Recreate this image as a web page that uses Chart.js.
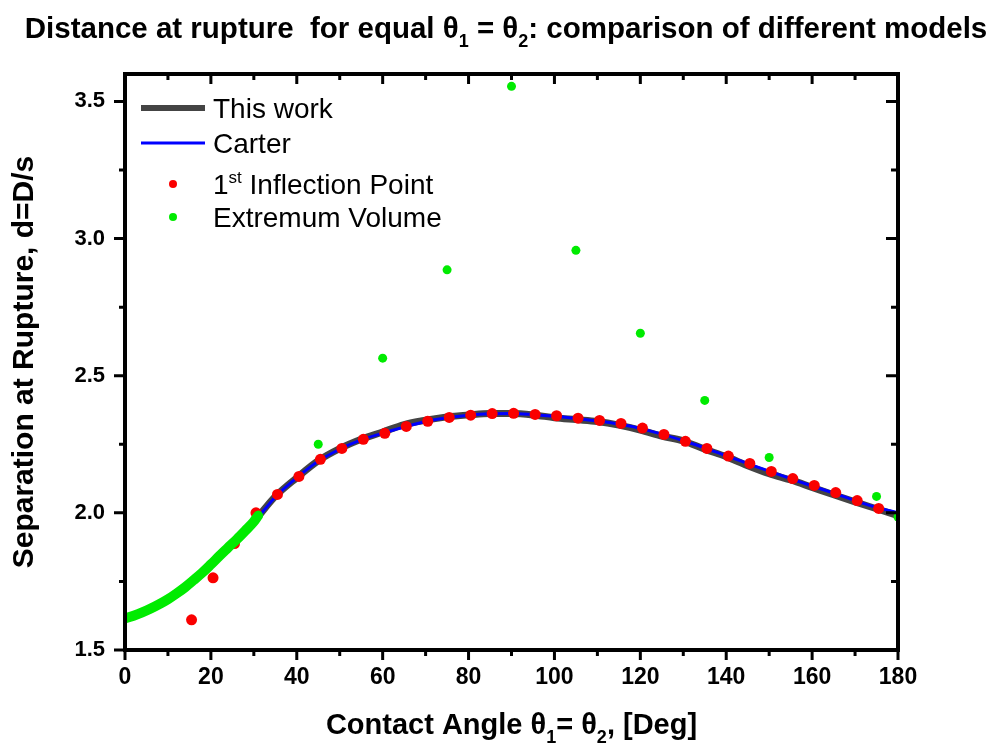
<!DOCTYPE html>
<html>
<head>
<meta charset="utf-8">
<script src="https://cdn.jsdelivr.net/npm/chart.js@4.4.0/dist/chart.umd.min.js"></script>
<style>
html, body { margin: 0; padding: 0; background: #fff; }
#wrap { width: 992px; height: 749px; }
</style>
</head>
<body>
<div id="wrap"><canvas id="chart" width="992" height="749"></canvas></div>
<script>
// Ângulos de contato (graus) usados para as duas curvas de modelo
const curveAngles = [0, 5, 10, 15, 20, 25, 30, 35, 40, 45, 50, 55, 60, 65, 70, 75, 80, 85, 90,
    95, 100, 105, 110, 115, 120, 125, 130, 135, 140, 145, 150, 155, 160, 165, 170, 175, 180];
const thisWork = [1.615, 1.645, 1.685, 1.74, 1.812, 1.888, 1.968, 2.06, 2.128, 2.19, 2.234, 2.268, 2.295,
    2.322, 2.338, 2.35, 2.357, 2.362, 2.362, 2.357, 2.347, 2.34, 2.333, 2.32, 2.302, 2.28, 2.262,
    2.232, 2.205, 2.172, 2.143, 2.12, 2.093, 2.066, 2.04, 2.015, 1.99];
const carter = [1.615, 1.645, 1.685, 1.74, 1.81, 1.885, 1.965, 2.058, 2.128, 2.188, 2.232, 2.266, 2.29,
    2.313, 2.333, 2.347, 2.356, 2.361, 2.362, 2.358, 2.352, 2.344, 2.335, 2.324, 2.308, 2.287, 2.263,
    2.237, 2.208, 2.18, 2.152, 2.125, 2.098, 2.072, 2.045, 2.02, 2.0];

// 1º ponto de inflexão
const inflectionAngles = [15.5, 20.5, 25.5, 30.5, 35.5, 40.5, 45.5, 50.5, 55.5, 60.5, 65.5, 70.5, 75.5,
    80.5, 85.5, 90.5, 95.5, 100.5, 105.5, 110.5, 115.5, 120.5, 125.5, 130.5, 135.5, 140.5, 145.5,
    150.5, 155.5, 160.5, 165.5, 170.5, 175.5];
const inflectionValues = [1.61, 1.763, 1.888, 2.0, 2.067, 2.133, 2.195, 2.235, 2.268, 2.29, 2.315, 2.334,
    2.348, 2.356, 2.362, 2.363, 2.359, 2.354, 2.345, 2.337, 2.326, 2.309, 2.286, 2.261, 2.235, 2.207,
    2.18, 2.151, 2.125, 2.1, 2.074, 2.045, 2.016];

// Volume extremo: trecho denso (0-31 graus) e pontos isolados
const extremumDenseAngles = [0, 2, 4, 6, 8, 10, 12, 14, 16, 18, 20, 22, 24, 26, 28, 30, 31];
const extremumDenseValues = [1.615, 1.625, 1.637, 1.651, 1.667, 1.685, 1.706, 1.729, 1.755, 1.782, 1.812,
    1.843, 1.873, 1.903, 1.935, 1.968, 1.99];
const extremumAngles = [45, 60, 75, 90, 105, 120, 135, 150, 175, 180];
const extremumValues = [2.25, 2.564, 2.886, 3.555, 2.957, 2.655, 2.41, 2.202, 2.06, 1.985];

// Marcas dos eixos
const xMajor = [0, 20, 40, 60, 80, 100, 120, 140, 160, 180];
const xMinor = [10, 30, 50, 70, 90, 110, 130, 150, 170];
const yMajor = [1.5, 2.0, 2.5, 3.0, 3.5];
const yMinor = [1.75, 2.25, 2.75, 3.25];

const FONT = '"Liberation Sans", Arial, sans-serif';
const GREEN = 'rgb(0, 235, 0)';
const RED = 'rgb(250, 0, 0)';

function toPoints(xs, ys) {
    return xs.map((x, i) => ({ x: x, y: ys[i] }));
}

// Desenha texto com subscrito/sobrescrito
function drawRich(ctx, parts, x, y, size, weight, align) {
    const small = Math.round(size * 0.62);
    const widths = parts.map(p => {
        ctx.font = `${weight} ${p[1] ? small : size}px ${FONT}`;
        return ctx.measureText(p[0]).width;
    });
    const total = widths.reduce((a, b) => a + b, 0);
    let cx = align === 'center' ? x - total / 2 : x;
    ctx.textBaseline = 'alphabetic';
    ctx.textAlign = 'left';
    parts.forEach((p, i) => {
        ctx.font = `${weight} ${p[1] ? small : size}px ${FONT}`;
        let dy = 0;
        if (p[1] === 'sub') dy = size * 0.3;
        if (p[1] === 'sup') dy = -size * 0.4;
        ctx.fillText(p[0], cx, y + dy);
        cx += widths[i];
    });
}

const decorations = {
    id: 'decorations',
    afterDatasetsDraw(chart) {
        const ctx = chart.ctx;
        const a = chart.chartArea;
        const xs = chart.scales.x, ys = chart.scales.y;
        ctx.save();
        ctx.strokeStyle = '#000';
        ctx.lineWidth = 3;
        ctx.beginPath();
        xMajor.forEach(v => {
            const px = xs.getPixelForValue(v);
            ctx.moveTo(px, a.bottom); ctx.lineTo(px, a.bottom + 10);
            ctx.moveTo(px, a.top); ctx.lineTo(px, a.top + 10);
        });
        xMinor.forEach(v => {
            const px = xs.getPixelForValue(v);
            ctx.moveTo(px, a.bottom); ctx.lineTo(px, a.bottom + 6);
            ctx.moveTo(px, a.top); ctx.lineTo(px, a.top + 6);
        });
        yMajor.forEach(v => {
            const py = ys.getPixelForValue(v);
            ctx.moveTo(a.left, py); ctx.lineTo(a.left - 11, py);
            ctx.moveTo(a.right, py); ctx.lineTo(a.right - 12, py);
        });
        yMinor.forEach(v => {
            const py = ys.getPixelForValue(v);
            ctx.moveTo(a.left, py); ctx.lineTo(a.left - 6, py);
            ctx.moveTo(a.right, py); ctx.lineTo(a.right - 7, py);
        });
        ctx.stroke();
        ctx.lineWidth = 4;
        ctx.strokeRect(a.left, a.top, a.right - a.left, a.bottom - a.top);
        ctx.restore();
    },
    afterDraw(chart) {
        const ctx = chart.ctx;
        const a = chart.chartArea;
        ctx.save();
        ctx.fillStyle = '#000';

        // Título
        drawRich(ctx, [['Distance at rupture  for equal θ'], ['1', 'sub'], [' = θ'], ['2', 'sub'],
            [': comparison of different models']], 506, 38, 29.5, 'bold', 'center');

        // Título do eixo x
        drawRich(ctx, [['Contact Angle θ'], ['1', 'sub'], ['= θ'], ['2', 'sub'], [', [Deg]']],
            (a.left + a.right) / 2, 734, 29, 'bold', 'center');

        // Título do eixo y
        ctx.save();
        ctx.translate(33, (a.top + a.bottom) / 2);
        ctx.rotate(-Math.PI / 2);
        drawRich(ctx, [['Separation at Rupture, d=D/s']], 0, 0, 30, 'bold', 'center');
        ctx.restore();

        // Legenda
        const ds = chart.data.datasets;
        const lx1 = 141, lx2 = 205, tx = 213;
        const rows = [108, 143, 184, 217];
        ctx.lineCap = 'butt';
        ctx.strokeStyle = ds[4].borderColor; ctx.lineWidth = 6;
        ctx.beginPath(); ctx.moveTo(lx1, rows[0]); ctx.lineTo(lx2, rows[0]); ctx.stroke();
        ctx.strokeStyle = ds[3].borderColor; ctx.lineWidth = ds[3].borderWidth;
        ctx.beginPath(); ctx.moveTo(lx1, rows[1]); ctx.lineTo(lx2, rows[1]); ctx.stroke();
        ctx.fillStyle = ds[2].backgroundColor;
        ctx.beginPath(); ctx.arc(173, rows[2], 4, 0, Math.PI * 2); ctx.fill();
        ctx.fillStyle = ds[1].backgroundColor;
        ctx.beginPath(); ctx.arc(173, rows[3], 4, 0, Math.PI * 2); ctx.fill();
        ctx.fillStyle = '#000';
        const off = 10;
        drawRich(ctx, [['This work']], tx, rows[0] + off, 28, 'normal', 'left');
        drawRich(ctx, [['Carter']], tx, rows[1] + off, 28, 'normal', 'left');
        drawRich(ctx, [['1'], ['st', 'sup'], [' Inflection Point']], tx, rows[2] + off, 28, 'normal', 'left');
        drawRich(ctx, [['Extremum Volume']], tx, rows[3] + off, 28, 'normal', 'left');
        ctx.restore();
    }
};

new Chart(document.getElementById('chart').getContext('2d'), {
    type: 'scatter',
    data: {
        datasets: [
            {
                label: 'Extremum Volume (dense)',
                data: toPoints(extremumDenseAngles, extremumDenseValues),
                showLine: true, borderColor: GREEN, backgroundColor: GREEN,
                borderWidth: 10, borderCapStyle: 'round', borderJoinStyle: 'round',
                pointRadius: 0, cubicInterpolationMode: 'monotone', order: 0
            },
            {
                label: 'Extremum Volume',
                data: toPoints(extremumAngles, extremumValues),
                borderColor: GREEN, backgroundColor: GREEN,
                pointRadius: 4.5, pointBorderWidth: 0, order: 1
            },
            {
                label: '1st Inflection Point',
                data: toPoints(inflectionAngles, inflectionValues),
                borderColor: RED, backgroundColor: RED,
                pointRadius: 5.5, pointBorderWidth: 0, order: 2
            },
            {
                label: 'Carter',
                data: toPoints(curveAngles, carter),
                showLine: true, borderColor: '#0000ff', backgroundColor: '#0000ff',
                borderWidth: 3, pointRadius: 0, cubicInterpolationMode: 'monotone', order: 3
            },
            {
                label: 'This work',
                data: toPoints(curveAngles, thisWork),
                showLine: true, borderColor: '#444444', backgroundColor: '#444444',
                borderWidth: 7, pointRadius: 0, cubicInterpolationMode: 'monotone', order: 4
            }
        ]
    },
    options: {
        responsive: false,
        animation: false,
        layout: { padding: { left: 0, top: 74, right: 94, bottom: 0 } },
        plugins: {
            legend: { display: false },
            title: { display: false },
            tooltip: { enabled: false }
        },
        scales: {
            x: {
                type: 'linear', min: 0, max: 180,
                afterFit: (scale) => { scale.height = 99; },
                afterBuildTicks: (scale) => { scale.ticks = xMajor.map(v => ({ value: v })); },
                grid: { display: false, drawTicks: false, tickLength: 0 },
                border: { display: false },
                ticks: {
                    padding: 14, color: '#000', maxRotation: 0, autoSkip: false,
                    font: { family: FONT, size: 23, weight: 'bold' },
                    callback: (v) => String(v)
                }
            },
            y: {
                type: 'linear', min: 1.5, max: 3.6,
                afterFit: (scale) => { scale.width = 125; },
                afterBuildTicks: (scale) => { scale.ticks = yMajor.map(v => ({ value: v })); },
                grid: { display: false, drawTicks: false, tickLength: 0 },
                border: { display: false },
                ticks: {
                    padding: 20, color: '#000', autoSkip: false,
                    font: { family: FONT, size: 22, weight: 'bold' },
                    callback: (v) => Number(v).toFixed(1)
                }
            }
        }
    },
    plugins: [decorations]
});
</script>
</body>
</html>
